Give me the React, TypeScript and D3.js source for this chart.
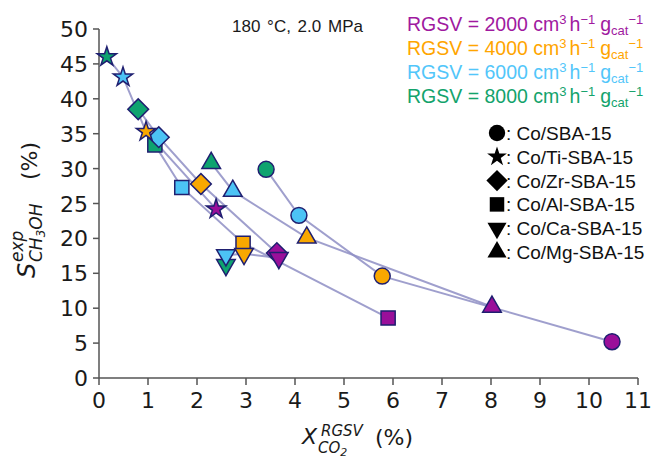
import React from "react";
import * as d3 from "d3";

// RGSV levels (cm3 h-1 gcat-1) and their colours
const rgsvLevels = [2000, 4000, 6000, 8000];
const rgsvColors = ["#9a0f9a", "#f9a800", "#4cc3f5", "#0ea36f"];
const rgsvTextColors = ["#a0199f", "#ffa500", "#52c6fa", "#13a36c"];

const catalysts = ["Co/SBA-15", "Co/Ti-SBA-15", "Co/Zr-SBA-15", "Co/Al-SBA-15", "Co/Ca-SBA-15", "Co/Mg-SBA-15"];
const shapes = ["circle", "star", "diamond", "square", "down", "up"];

// conversion X_CO2 (%) in order of rgsvLevels
const xSBA = [10.47, 5.78, 4.08, 3.41];
const xTi = [2.39, 0.96, 0.49, 0.16];
const xZr = [3.63, 2.08, 1.22, 0.8];
const xAl = [5.9, 2.94, 1.69, 1.14];
const xCa = [3.67, 2.96, 2.59, 2.59];
const xMg = [8.02, 4.24, 2.73, 2.29];

// methanol selectivity S_CH3OH (%) in order of rgsvLevels
const sSBA = [5.2, 14.6, 23.3, 29.9];
const sTi = [24.2, 35.3, 43.1, 46.0];
const sZr = [17.9, 27.8, 34.5, 38.5];
const sAl = [8.6, 19.3, 27.3, 33.4];
const sCa = [17.2, 17.8, 17.6, 16.2];
const sMg = [10.2, 20.1, 26.8, 30.8];

const xValues = [xSBA, xTi, xZr, xAl, xCa, xMg];
const sValues = [sSBA, sTi, sZr, sAl, sCa, sMg];

const xTicks = d3.range(0, 12, 1);
const yTicks = d3.range(0, 55, 5);

const W = 654;
const H = 459;

const symbolPath = (shape: string, scale = 1) => {
  if (shape === "circle") return d3.symbol(d3.symbolCircle, 200 * scale)();
  if (shape === "star") return d3.symbol(d3.symbolStar, 115 * scale)();
  if (shape === "diamond") return d3.symbol(d3.symbolSquare, 215 * scale)();
  if (shape === "square") return d3.symbol(d3.symbolSquare, 200 * scale)();
  return d3.symbol(d3.symbolTriangle, 150 * scale)();
};
const symbolRotate = (shape: string) =>
  shape === "diamond" ? 45 : shape === "down" ? 180 : 0;

export default function App() {
  const x = d3.scaleLinear().domain([0, 11]).range([99, 638]);
  const y = d3.scaleLinear().domain([0, 50]).range([378, 29]);
  const line = d3.line<[number, number]>().x(d => x(d[0])).y(d => y(d[1]));

  const axisColor = "#555";
  const tickFont = "'DejaVu Sans', sans-serif";
  const legendFont = "'Liberation Sans', Arial, sans-serif";

  // draw order of points: low RGSV last so that they sit on top like the reference
  const points: { c: number; r: number }[] = [];
  [3, 2, 1, 0].forEach(r => catalysts.forEach((_, c) => points.push({ c, r })));

  return (
    <svg width={W} height={H} style={{ position: "absolute", left: 0, top: 0, background: "#fff" }}>
      {/* axes */}
      <g stroke={axisColor} strokeWidth={1.5} fill="none">
        <line x1={x(0)} x2={x(11)} y1={y(0)} y2={y(0)} />
        <line x1={x(0)} x2={x(0)} y1={y(0)} y2={y(50)} />
        {xTicks.map(t => (
          <line key={"xt" + t} x1={x(t)} x2={x(t)} y1={y(0)} y2={y(0) + 7} />
        ))}
        {yTicks.map(t => (
          <line key={"yt" + t} x1={x(0) - 6} x2={x(0)} y1={y(t)} y2={y(t)} />
        ))}
      </g>
      <g fontFamily={tickFont} fontSize={22} fill="#1a1a1a">
        {xTicks.map(t => (
          <text key={"xl" + t} x={x(t)} y={408} textAnchor="middle">{t}</text>
        ))}
        {yTicks.map(t => (
          <text key={"yl" + t} x={88} y={y(t) + 8} textAnchor="end">{t}</text>
        ))}
      </g>

      {/* axis titles */}
      <g fontFamily={tickFont} fill="#1a1a1a">
        <text x={302} y={444} fontSize={22} fontStyle="italic">X</text>
        <text x={321} y={436} fontSize={15} fontStyle="italic">RGSV</text>
        <text x={318} y={453} fontSize={15} fontStyle="italic">CO<tspan fontSize={11} dy={3}>2</tspan></text>
        <text x={375} y={445} fontSize={22}>(%)</text>
      </g>
      <g fontFamily={tickFont} fill="#1a1a1a" transform="rotate(-90)">
        <text x={-278} y={35} fontSize={24} fontStyle="italic">S</text>
        <text x={-262} y={23} fontSize={17} fontStyle="italic">exp</text>
        <text x={-262} y={42} fontSize={17} fontStyle="italic">CH<tspan fontSize={12} dy={3}>3</tspan><tspan dy={-3}>OH</tspan></text>
        <text x={-180} y={37} fontSize={22}>(%)</text>
      </g>

      {/* connecting lines per catalyst */}
      <g fill="none" stroke="#8e8ec4" strokeWidth={2} strokeOpacity={0.85}>
        {catalysts.map((cat, c) => (
          <path key={cat} d={line(xValues[c].map((v, i) => [v, sValues[c][i]] as [number, number])) || ""} />
        ))}
      </g>

      {/* markers */}
      <g stroke="#1f1f70" strokeWidth={1.5}>
        {points.map(({ c, r }) => (
          <path
            key={c + "-" + r}
            d={symbolPath(shapes[c]) || ""}
            fill={rgsvColors[r]}
            transform={`translate(${x(xValues[c][r])},${y(sValues[c][r])}) rotate(${symbolRotate(shapes[c])})`}
          />
        ))}
      </g>

      {/* conditions */}
      <text x={232} y={32} fontFamily={legendFont} fontSize={17} wordSpacing={2} fill="#1a1a1a">
        180 °C, 2.0 MPa
      </text>

      {/* RGSV legend */}
      <g fontFamily={legendFont} fontSize={19.5}>
        {rgsvLevels.map((v, i) => (
          <text key={v} x={407} y={31 + i * 24} fill={rgsvTextColors[i]}>
            {`RGSV = ${v} cm`}
            <tspan fontSize={13} dy={-7}>3</tspan>
            <tspan dx={3} dy={7}>h</tspan>
            <tspan fontSize={13} dy={-7}>−1</tspan>
            <tspan dx={5} dy={7}>g</tspan>
            <tspan fontSize={13} dy={4}>cat</tspan>
            <tspan fontSize={13} dy={-11}>−1</tspan>
          </text>
        ))}
      </g>

      {/* shape legend */}
      <g fontFamily={legendFont} fontSize={19} fill="#111">
        {catalysts.map((cat, i) => (
          <g key={cat} transform={`translate(497,${133 + i * 23.8})`}>
            <path d={symbolPath(shapes[i], 1.05) || ""} fill="#000" transform={`rotate(${symbolRotate(shapes[i])})`} />
            <text x={9} y={7}>{`: ${cat}`}</text>
          </g>
        ))}
      </g>
    </svg>
  );
}
